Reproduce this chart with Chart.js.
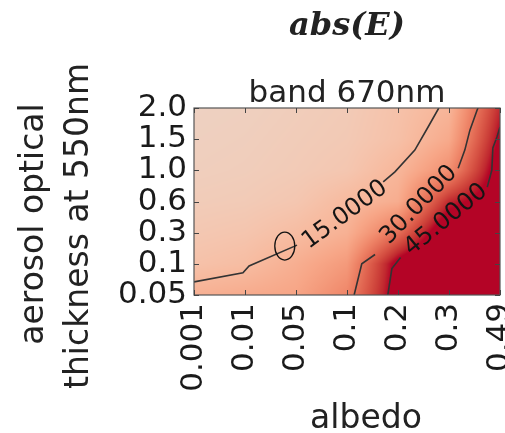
<!DOCTYPE html>
<html><head><meta charset="utf-8">
<script src="https://cdn.jsdelivr.net/npm/chart.js@4/dist/chart.umd.min.js"></script>
<style>html,body{margin:0;padding:0;background:#fff;}#wrap{width:505px;height:433px;}</style>
</head><body><div id="wrap"><canvas id="c" width="505" height="433"></canvas></div>
<script>
// ---------- data ----------
const albedoLabels = ['0.001','0.01','0.05','0.1','0.2','0.3','0.49'];
const aotLabels    = ['0.05','0.1','0.3','0.6','1.0','1.5','2.0'];
// abs(E) per AOT row (bottom to top), values along albedo columns
const absE_aot005 = [17, 18.5, 20, 26.9, 49, 60, 60];
const absE_aot01  = [12, 13.5, 17.6, 22.6, 48, 60, 60];
const absE_aot03  = [10, 11, 13.6, 17, 31, 53.6, 60];
const absE_aot06  = [8.5, 9, 10.5, 14.5, 18, 42, 51];
const absE_aot10  = [7.5, 8, 9, 10.5, 15.5, 25, 50];
const absE_aot15  = [7, 7.5, 8.5, 9.5, 12.5, 18.75, 46];
const absE_aot20  = [6.5, 7, 8, 9, 12, 15.75, 42];
const contourLevels = [15, 30, 45];
const contour15Lower = [[0,0.42],[0.96,0.71],[1.08,0.93],[2.02,1.6]];
const contour15Upper = [[3.71,3.63],[3.94,3.95],[4.33,4.65],[4.59,5.39],[4.8,6]];
const contour30Lower = [[3.14,0],[3.29,1.0],[3.55,1.3]];
const contour30Upper = [[5.18,4.07],[5.31,4.65],[5.41,5.29],[5.55,5.93],[5.57,6]];
const contour45Lower = [[3.8,0],[3.88,0.85],[4.05,1.2]];
const contour45Upper = [[5.75,3.46],[5.84,4.01],[5.86,4.72],[5.94,5.07],[6,5.39]];
const contourLabelText = ['15.0000','30.0000','45.0000'];
const contourLabelPos  = [[2.96,2.57],[4.41,2.89],[4.94,2.41]];
const markerPoint = [1.78, 1.57];

// ---------- helpers ----------
const absERows = [absE_aot005, absE_aot01, absE_aot03, absE_aot06, absE_aot10, absE_aot15, absE_aot20];
const contourPairs = [[contour15Lower, contour15Upper],[contour30Lower, contour30Upper],[contour45Lower, contour45Upper]];
const vLim = 45;
const cwStops = [[221,221,221],[229,216,209],[236,211,197],[241,204,185],[245,196,173],[247,187,160],[247,177,148],[247,166,135],[244,154,123],[241,141,111],[236,127,99],[229,112,88],[222,96,77],[213,80,66],[203,62,56],[192,40,47],[180,4,38]];
function cmap(v){
  let t = Math.max(0, Math.min(1, v / vLim));
  const f = t * (cwStops.length - 1), i = Math.min(cwStops.length - 2, Math.floor(f)), r = f - i;
  const a = cwStops[i], b = cwStops[i+1];
  return [a[0]+(b[0]-a[0])*r, a[1]+(b[1]-a[1])*r, a[2]+(b[2]-a[2])*r];
}
function field(xv, yv){
  const nx = absERows[0].length - 1, ny = absERows.length - 1;
  xv = Math.max(0, Math.min(nx, xv)); yv = Math.max(0, Math.min(ny, yv));
  const i = Math.min(nx - 1, Math.floor(xv)), j = Math.min(ny - 1, Math.floor(yv));
  const fx = xv - i, fy = yv - j;
  const v00 = absERows[j][i], v10 = absERows[j][i+1], v01 = absERows[j+1][i], v11 = absERows[j+1][i+1];
  return v00*(1-fx)*(1-fy) + v10*fx*(1-fy) + v01*(1-fx)*fy + v11*fx*fy;
}

const fieldPlugin = {
  id: 'field',
  beforeDatasetsDraw(chart){
    const {ctx, chartArea: a, scales: {x, y}} = chart;
    const w = Math.round(a.right - a.left), h = Math.round(a.bottom - a.top);
    const off = document.createElement('canvas'); off.width = w; off.height = h;
    const octx = off.getContext('2d'); const img = octx.createImageData(w, h);
    for (let j = 0; j < h; j++){
      const yv = y.getValueForPixel(a.top + j + 0.5);
      for (let i = 0; i < w; i++){
        const xv = x.getValueForPixel(a.left + i + 0.5);
        const c = cmap(field(xv, yv)); const k = (j*w + i)*4;
        img.data[k] = c[0]; img.data[k+1] = c[1]; img.data[k+2] = c[2]; img.data[k+3] = 255;
      }
    }
    octx.putImageData(img, 0, 0);
    ctx.drawImage(off, a.left, a.top);
  }
};

const overlayPlugin = {
  id: 'overlay',
  afterDatasetsDraw(chart){
    const {ctx, chartArea: a, scales: {x, y}} = chart;
    ctx.save();
    // contour labels
    ctx.fillStyle = '#141414'; ctx.font = '24px "DejaVu Sans"';
    ctx.textAlign = 'center'; ctx.textBaseline = 'middle';
    contourPairs.forEach((pair, k) => {
      const p0 = pair[0][pair[0].length-1], p1 = pair[1][0];
      const ang = Math.atan2(y.getPixelForValue(p1[1]) - y.getPixelForValue(p0[1]), x.getPixelForValue(p1[0]) - x.getPixelForValue(p0[0]));
      ctx.save();
      ctx.translate(x.getPixelForValue(contourLabelPos[k][0]), y.getPixelForValue(contourLabelPos[k][1]));
      ctx.rotate(ang);
      ctx.fillText(contourLabelText[k], 0, 0);
      ctx.restore();
    });
    // marker ellipse
    ctx.strokeStyle = '#111'; ctx.lineWidth = 1.3;
    ctx.beginPath();
    ctx.ellipse(x.getPixelForValue(markerPoint[0]), y.getPixelForValue(markerPoint[1]), 10, 14, 0, 0, Math.PI*2);
    ctx.stroke();
    // frame
    ctx.strokeStyle = '#555'; ctx.lineWidth = 1.2;
    ctx.strokeRect(a.left, a.top, a.right - a.left, a.bottom - a.top);
    // inward ticks
    ctx.strokeStyle = '#444'; ctx.lineWidth = 1;
    ctx.beginPath();
    albedoLabels.forEach((_, i) => {
      const px = Math.round(x.getPixelForValue(i)) + 0.5;
      ctx.moveTo(px, a.bottom); ctx.lineTo(px, a.bottom - 5);
      ctx.moveTo(px, a.top); ctx.lineTo(px, a.top + 5);
    });
    aotLabels.forEach((_, i) => {
      const py = Math.round(y.getPixelForValue(i)) + 0.5;
      ctx.moveTo(a.left, py); ctx.lineTo(a.left + 5, py);
      ctx.moveTo(a.right, py); ctx.lineTo(a.right - 5, py);
    });
    ctx.stroke();
    ctx.restore();
  },
  afterDraw(chart){
    const {ctx, chartArea: a} = chart;
    const cx = (a.left + a.right) / 2;
    ctx.save();
    ctx.fillStyle = '#222'; ctx.textAlign = 'center'; ctx.textBaseline = 'alphabetic';
    ctx.font = 'italic bold 32px "DejaVu Serif"';
    ctx.fillText('abs(E)', cx, 35);
    ctx.font = '31px "DejaVu Sans"';
    ctx.fillText('band 670nm', cx, 102);
    ctx.font = '33px "DejaVu Sans"';
    ctx.fillText('albedo', 366, 428);
    ctx.save(); ctx.translate(43, 224); ctx.rotate(-Math.PI/2); ctx.fillText('aerosol optical', 0, 0); ctx.restore();
    ctx.save(); ctx.translate(88, 226); ctx.rotate(-Math.PI/2); ctx.fillText('thickness at 550nm', 0, 0); ctx.restore();
    ctx.restore();
  }
};

const datasets = [];
contourPairs.forEach(pair => pair.forEach(seg => datasets.push({
  data: seg.map(p => ({x: p[0], y: p[1]})),
  showLine: true, borderColor: '#333', borderWidth: 1.6, pointRadius: 0, fill: false, tension: 0
})));

const tickFont = {family: 'DejaVu Sans', size: 31};
new Chart(document.getElementById('c'), {
  type: 'scatter',
  data: {datasets},
  options: {
    responsive: false, animation: false, devicePixelRatio: 1,
    layout: {padding: {top: 108, right: 5, left: 0, bottom: 0}},
    plugins: {legend: {display: false}, tooltip: {enabled: false}},
    scales: {
      x: {type: 'linear', min: 0, max: 6,
        ticks: {stepSize: 1, autoSkip: false, maxRotation: 90, minRotation: 90, padding: 8, font: tickFont, color: '#1a1a1a',
          callback: v => albedoLabels[v]},
        grid: {display: false, drawTicks: false}, border: {display: false},
        afterFit: s => { s.height = 138; s.paddingLeft = 0; s.paddingRight = 0; }},
      y: {type: 'linear', min: 0, max: 6,
        ticks: {stepSize: 1, autoSkip: false, padding: 7, font: tickFont, color: '#1a1a1a',
          callback: v => aotLabels[v]},
        grid: {display: false, drawTicks: false}, border: {display: false},
        afterFit: s => { s.width = 194; s.paddingTop = 0; s.paddingBottom = 0; }}
    }
  },
  plugins: [fieldPlugin, overlayPlugin]
});
</script></body></html>
